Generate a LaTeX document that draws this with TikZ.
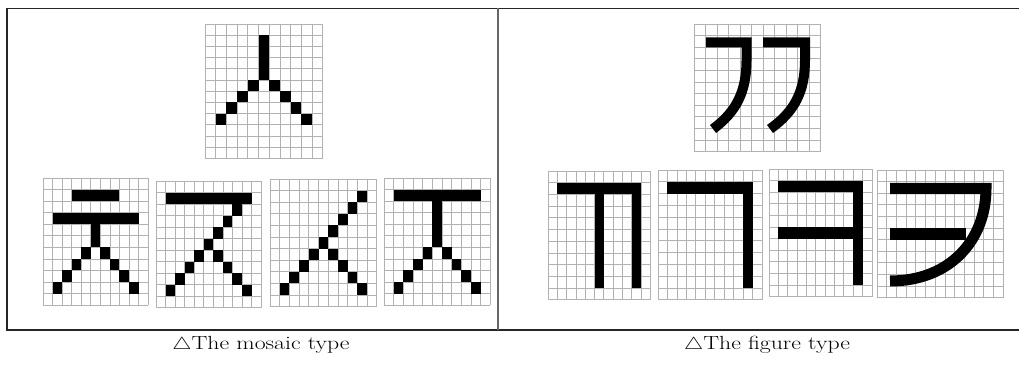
\documentclass[tikz,border=0pt]{standalone}
\usepackage{graphicx}
\usepackage{tikz}
\usetikzlibrary{calc}
\tikzset{
  gridline/.style={draw=gray!60, line width=0.7pt},
  frameline/.style={draw=black!85, line width=1.4pt},
  ink/.style={fill=black},
  pen/.style={draw=black, line width=10pt},
  caption/.style={font=\fontsize{19}{21}\selectfont, anchor=center},
}
% grid of #1 x #2 cells, drawn in a scope whose units are one cell
\newcommand{\cellgrid}[2]{%
  \foreach \i in {0,...,#1} \draw[gridline] (\i,0) -- (\i,#2);
  \foreach \j in {0,...,#2} \draw[gridline] (0,\j) -- (#1,\j);
}
\newcommand{\widecap}[1]{\scalebox{1.25}[1]{#1}}
\begin{document}
\begin{tikzpicture}[x=1pt, y=-1pt]
  \useasboundingbox (0,0) rectangle (1019,366);
  % frame
  \draw[frameline] (1019,8.5) -- (7,8.5) -- (7,330) -- (1019,330);
  \draw[draw=black!60, line width=1.4pt] (498,8.5) -- (498,330);

  % ---- mosaic type ----
  % top glyph
  \begin{scope}[shift={(205,24)}, x=10.7pt, y=-11.2pt]
    \cellgrid{11}{12}
    \fill[ink] (5,1) rectangle (6,5);
    \foreach \c/\r in {4/5,6/5,3/6,7/6,2/7,8/7,1/8,9/8}
      \fill[ink] (\c,\r) rectangle ++(1,1);
  \end{scope}
  % first
  \begin{scope}[shift={(43,178)}, x=9.55pt, y=-11.55pt]
    \cellgrid{11}{11}
    \fill[ink] (3,1) rectangle (8,2);
    \fill[ink] (1,3) rectangle (10,4);
    \fill[ink] (5,4) rectangle (6,6);
    \foreach \c/\r in {4/6,6/6,3/7,7/7,2/8,8/8,1/9,9/9}
      \fill[ink] (\c,\r) rectangle ++(1,1);
  \end{scope}
  % second
  \begin{scope}[shift={(156,181)}, x=9.55pt, y=-11.5pt]
    \cellgrid{11}{11}
    \fill[ink] (1,1) rectangle (10,2);
    \foreach \c/\r in {8/2,7/3,6/4,5/5,4/6,3/7,2/8,1/9,6/6,7/7,8/8,9/9}
      \fill[ink] (\c,\r) rectangle ++(1,1);
  \end{scope}
  % third
  \begin{scope}[shift={(270,179)}, x=9.7pt, y=-11.6pt]
    \cellgrid{11}{11}
    \foreach \c/\r in {9/1,8/2,7/3,6/4,5/5,4/6,3/7,2/8,1/9,6/6,7/7,8/8,9/9}
      \fill[ink] (\c,\r) rectangle ++(1,1);
  \end{scope}
  % fourth
  \begin{scope}[shift={(384,178)}, x=9.65pt, y=-11.55pt]
    \cellgrid{11}{11}
    \fill[ink] (1,1) rectangle (10,2);
    \fill[ink] (5,2) rectangle (6,6);
    \foreach \c/\r in {4/6,6/6,3/7,7/7,2/8,8/8,1/9,9/9}
      \fill[ink] (\c,\r) rectangle ++(1,1);
  \end{scope}

  % ---- figure type ----
  \begin{scope}[shift={(694,24)}, x=11.5pt, y=-11.6pt]
    \cellgrid{11}{11}
  \end{scope}
  \draw[pen] (706,42.5) -- (746.5,42.5) -- (746.5,60)
    .. controls (746.5,92) and (736,112) .. (713,129);
  \draw[pen] (763,42.5) -- (805,42.5) -- (805,60)
    .. controls (805,92) and (794,112) .. (770,129);
  % first
  \begin{scope}[shift={(548,171)}, x=9.3pt, y=-11.7pt]
    \cellgrid{11}{11}
    \fill[ink] (1,1) rectangle (10,2);
    \fill[ink] (5,1) rectangle (6,10);
    \fill[ink] (9,1) rectangle (10,10);
  \end{scope}
  % second
  \begin{scope}[shift={(658,170)}, x=9.45pt, y=-11.8pt]
    \cellgrid{11}{11}
    \fill[ink] (1,1) rectangle (10,2);
    \fill[ink] (9,1) rectangle (10,10);
  \end{scope}
  % third
  \begin{scope}[shift={(769,169)}, x=9.35pt, y=-11.6pt]
    \cellgrid{11}{11}
    \fill[ink] (1,1) rectangle (10,2);
    \fill[ink] (1,5) rectangle (10,6);
    \fill[ink] (9,1) rectangle (10,10);
  \end{scope}
  % fourth
  \begin{scope}[shift={(877,170)}, x=9.7pt, y=-11.6pt]
    \cellgrid{13}{11}
  \end{scope}
  \draw[pen, line width=11pt] (890,188.5) -- (986,188.5)
    .. controls (986,240) and (950,281) .. (890,281);
  \fill[ink] (890,228) rectangle (966,240);

  % captions
  \node[caption] (capmosaic) at (261,345) {\widecap{$\triangle$The mosaic type}};
  \node[caption] (capfigure) at (767,345) {\widecap{$\triangle$The figure type}};
\end{tikzpicture}
\end{document}
